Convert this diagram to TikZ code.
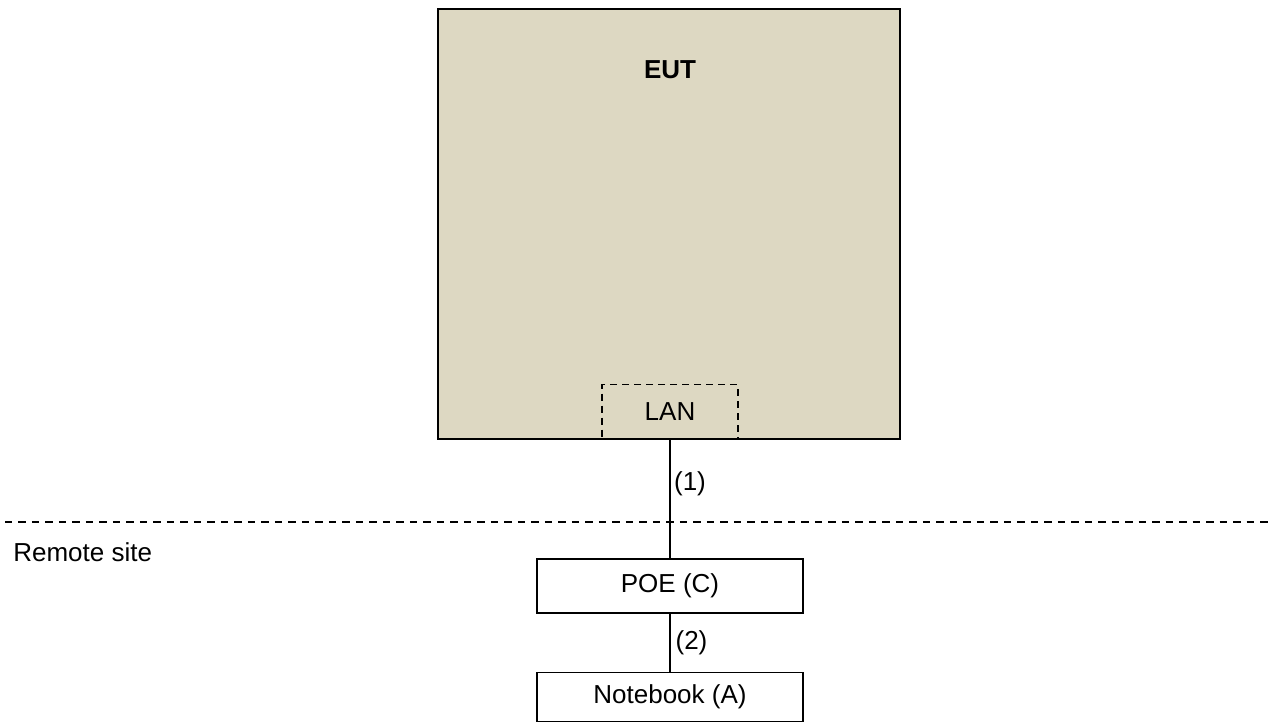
\documentclass[tikz,border=0pt]{standalone}
\usepackage{fontspec}
\setmainfont{Liberation Sans}
\definecolor{eutfill}{RGB}{221,216,194}
\tikzset{
  txt/.style={font=\fontsize{14.8}{17.8}\selectfont, inner sep=0pt},
  box/.style={draw, line width=0.7pt, fill=white, txt},
  sepline/.style={line width=0.7pt, dash pattern=on 0.15cm off 0.12cm}
}
\begin{document}
\begin{tikzpicture}[x=0.02cm, y=-0.02cm]
  \useasboundingbox (0,0) rectangle (1270,724);
  \node[box, fill=eutfill, line width=1.1pt, minimum width=9.24cm, minimum height=8.6cm] (EUT) at (669,224) {};
  \node[txt, font=\fontsize{14.8}{17.8}\selectfont\bfseries] (EUTlabel) at (670,70) {EUT};
  \node[box, fill=none, dash pattern=on 0.14cm off 0.1cm, minimum width=2.72cm, minimum height=1.1cm] (LAN) at (670,412) {LAN};
  \node[box, minimum width=5.32cm, minimum height=1.08cm] (POE) at (670,586) {POE (C)};
  \node[box, minimum width=5.32cm, minimum height=0.98cm] (NB) at (670,697) {Notebook (A)};

  \coordinate (sepL) at (5,522);
  \coordinate (sepR) at (1268,522);
  \draw[sepline] (sepL) -- (sepR);
  \node[txt, anchor=west] (remote) at (13,552) {Remote site};

  \draw[line width=0.7pt] (LAN.south) -- node[txt, right=0.07cm, pos=0.37] (c1) {(1)} (POE.north);
  \draw[line width=0.7pt] (POE.south) -- node[txt, right=0.1cm] (c2) {(2)} (NB.north);
\end{tikzpicture}
\end{document}
